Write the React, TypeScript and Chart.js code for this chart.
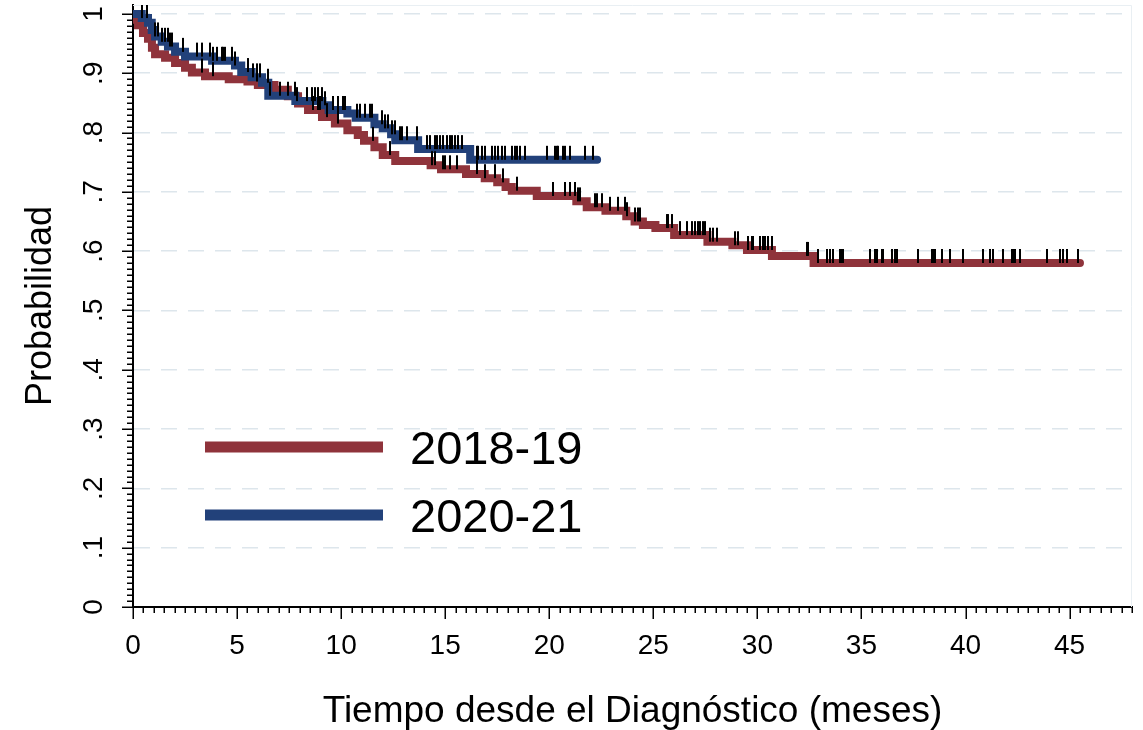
import React, { useEffect, useRef } from "react";
import { Chart, registerables } from "chart.js";

Chart.register(...registerables);

// ---------------- data ----------------
const seriesLabels = ["2018-19", "2020-21"];

// 2018-19 Kaplan-Meier steps (time in months, survival after the drop)
const redTimes = [0, 0.1, 0.24, 0.48, 0.72, 0.91, 1.06, 1.54, 2.02, 2.5, 2.83, 3.46, 4.6, 5.5, 6.0, 6.8, 7.44, 7.93, 8.41, 9.08, 9.7, 10.3, 10.8, 11.1, 11.6, 12.0, 12.6, 14.3, 14.8, 16.0, 16.9, 17.5, 17.9, 18.2, 19.4, 21.3, 21.8, 22.7, 23.7, 24.1, 24.5, 25.1, 26.0, 27.6, 28.8, 29.5, 30.7, 32.7];
const redValues = [1.0, 0.99, 0.981, 0.968, 0.958, 0.943, 0.932, 0.926, 0.917, 0.909, 0.901, 0.895, 0.89, 0.886, 0.88, 0.872, 0.861, 0.849, 0.838, 0.826, 0.815, 0.804, 0.796, 0.786, 0.775, 0.762, 0.752, 0.745, 0.738, 0.73, 0.723, 0.716, 0.708, 0.702, 0.693, 0.684, 0.674, 0.668, 0.659, 0.65, 0.644, 0.639, 0.627, 0.616, 0.61, 0.602, 0.592, 0.58];
const redEnd = 45.5;
const redCensor = [3.31, 3.84, 5.96, 8.65, 8.89, 8.98, 9.32, 9.85, 11.53, 12.34, 14.36, 14.51, 14.89, 14.99, 15.23, 15.56, 16.52, 16.91, 17.39, 17.77, 18.44, 20.17, 20.75, 20.99, 21.23, 21.37, 21.47, 22.19, 22.29, 22.53, 22.91, 23.3, 23.63, 23.73, 24.11, 24.26, 24.35, 25.65, 25.7, 25.89, 26.27, 26.61, 26.85, 26.99, 27.14, 27.23, 27.38, 27.47, 27.71, 27.86, 28.05, 28.91, 29.06, 29.54, 29.73, 29.78, 30.12, 30.26, 30.36, 30.5, 30.69, 32.37, 32.42, 32.9, 33.33, 33.48, 33.62, 33.96, 34.05, 34.1, 35.4, 35.64, 35.73, 35.98, 36.02, 36.46, 36.6, 36.7, 37.7, 38.38, 38.42, 38.52, 38.86, 39.24, 39.87, 40.83, 41.16, 41.31, 41.79, 42.22, 42.27, 42.36, 42.6, 43.9, 44.52, 44.67, 44.86, 45.39];

// 2020-21
const blueTimes = [0, 0.42, 0.72, 0.9, 1.06, 1.38, 1.68, 2.02, 2.5, 3.8, 4.9, 5.2, 5.7, 6.2, 6.5, 7.8, 9.1, 9.4, 10.3, 10.7, 11.6, 12.0, 12.4, 12.6, 13.7, 16.2];
const blueValues = [1.0, 0.993, 0.985, 0.973, 0.962, 0.953, 0.945, 0.936, 0.928, 0.921, 0.913, 0.902, 0.893, 0.884, 0.862, 0.853, 0.846, 0.838, 0.832, 0.825, 0.814, 0.807, 0.797, 0.787, 0.772, 0.754];
const blueEnd = 22.3;
const blueCensor = [0.42, 0.66, 1.06, 1.2, 1.38, 1.54, 1.67, 1.78, 1.86, 2.4, 3.06, 3.3, 3.7, 3.84, 4.02, 4.26, 4.32, 4.42, 4.74, 4.9, 5.52, 5.76, 5.96, 6.1, 6.48, 6.58, 7.06, 7.44, 7.78, 7.88, 8.36, 8.6, 8.74, 8.89, 9.08, 9.22, 9.61, 9.85, 10.09, 10.18, 10.76, 10.9, 11.14, 11.38, 11.48, 11.96, 12.1, 12.25, 12.44, 12.58, 12.82, 12.92, 13.16, 13.64, 14.12, 14.27, 14.51, 14.6, 14.75, 14.89, 15.08, 15.23, 15.32, 15.47, 15.61, 15.8, 16.52, 16.57, 16.76, 16.91, 17.24, 17.39, 17.53, 17.72, 17.87, 18.2, 18.35, 18.44, 18.59, 18.83, 19.88, 20.27, 20.36, 20.41, 20.65, 20.75, 20.99, 21.71, 22.09];

const xTickValues = [0, 5, 10, 15, 20, 25, 30, 35, 40, 45];
const xMinorStep = 0.5;
const xMin = 0;
const xMax = 48;
const yTickValues = [0, 0.1, 0.2, 0.3, 0.4, 0.5, 0.6, 0.7, 0.8, 0.9, 1];
const yTickLabels = ["0", ".1", ".2", ".3", ".4", ".5", ".6", ".7", ".8", ".9", "1"];
const yMinorStep = 0.01;
const yMin = 0;
const yMax = 1.015;

const xTitle = "Tiempo desde el Diagnóstico (meses)";
const yTitle = "Probabilidad";

// ---------------- styles ----------------
const RED = "#8f333b";
const BLUE = "#22417a";
const GRID = "#dde6ec";
const FONT = "'Liberation Sans', Arial, sans-serif";

function survivalAt(times: number[], values: number[], t: number) {
  let v = values[0];
  for (let i = 0; i < times.length; i++) {
    if (times[i] <= t) v = values[i];
  }
  return v;
}

function stepData(times: number[], values: number[], end: number) {
  const pts = times.map((t, i) => ({ x: t, y: values[i] }));
  pts.push({ x: end, y: values[values.length - 1] });
  return pts;
}

function censorData(times: number[], values: number[], cens: number[]) {
  return cens.map((t) => ({ x: t, y: survivalAt(times, values, t) }));
}

function makeTickImage() {
  const c = document.createElement("canvas");
  c.width = 2;
  c.height = 30;
  const g = c.getContext("2d")!;
  g.fillStyle = "#000";
  g.fillRect(0, 1, 2, 14);
  return c;
}

const statsPlugin = {
  id: "statsDecor",
  beforeDatasetsDraw(chart: any) {
    const { ctx, chartArea: ca } = chart;
    ctx.save();
    ctx.strokeStyle = "#e9eff3";
    ctx.lineWidth = 1;
    ctx.beginPath();
    ctx.moveTo(ca.left, ca.top + 0.5);
    ctx.lineTo(ca.right - 0.5, ca.top + 0.5);
    ctx.lineTo(ca.right - 0.5, ca.bottom);
    ctx.stroke();
    ctx.restore();
  },
  afterDraw(chart: any) {
    const { ctx, chartArea: ca } = chart;
    const xs = chart.scales.x;
    const ys = chart.scales.y;
    ctx.save();
    ctx.strokeStyle = "#000";
    ctx.lineWidth = 1.5;
    // x minor + major ticks
    const nx = Math.round((xMax - xMin) / xMinorStep);
    for (let i = 0; i <= nx; i++) {
      const v = xMin + i * xMinorStep;
      const px = Math.round(xs.getPixelForValue(v)) + 0.25;
      const major = xTickValues.some((m) => Math.abs(m - v) < 1e-6);
      ctx.beginPath();
      ctx.moveTo(px, ca.bottom);
      ctx.lineTo(px, ca.bottom + (major ? 12 : 6));
      ctx.stroke();
    }
    // y minor + major ticks
    const ny = Math.round((1 - yMin) / yMinorStep);
    for (let i = 0; i <= ny; i++) {
      const v = yMin + i * yMinorStep;
      const py = Math.round(ys.getPixelForValue(v)) + 0.25;
      const major = yTickValues.some((m) => Math.abs(m - v) < 1e-6);
      ctx.beginPath();
      ctx.moveTo(ca.left, py);
      ctx.lineTo(ca.left - (major ? 11 : 6), py);
      ctx.stroke();
    }
    // y tick labels (rotated, Stata style)
    ctx.fillStyle = "#000";
    ctx.font = `28px ${FONT}`;
    ctx.textAlign = "center";
    ctx.textBaseline = "alphabetic";
    yTickValues.forEach((v, i) => {
      ctx.save();
      ctx.translate(102, ys.getPixelForValue(v));
      ctx.rotate(-Math.PI / 2);
      ctx.fillText(yTickLabels[i], 0, 0);
      ctx.restore();
    });
    // legend
    const legendColors = [RED, BLUE];
    const legendY = [447, 515];
    ctx.font = `47px ${FONT}`;
    ctx.textAlign = "left";
    seriesLabels.forEach((lab, i) => {
      ctx.strokeStyle = legendColors[i];
      ctx.lineWidth = 11;
      ctx.lineCap = "butt";
      ctx.beginPath();
      ctx.moveTo(205, legendY[i]);
      ctx.lineTo(383, legendY[i]);
      ctx.stroke();
      ctx.fillStyle = "#000";
      ctx.fillText(lab, 410, legendY[i] + 17);
    });
    ctx.restore();
  },
};

export default function App() {
  const ref = useRef<HTMLCanvasElement | null>(null);

  useEffect(() => {
    document.body.style.margin = "0";
    const canvas = ref.current;
    if (!canvas) return;
    const tickImg = makeTickImage();

    const chart = new Chart(canvas, {
      type: "line",
      data: {
        datasets: [
          {
            type: "scatter",
            label: "censor-2018-19",
            data: censorData(redTimes, redValues, redCensor),
            pointStyle: tickImg as any,
            pointRadius: 3,
            showLine: false,
            order: 0,
          } as any,
          {
            type: "scatter",
            label: "censor-2020-21",
            data: censorData(blueTimes, blueValues, blueCensor),
            pointStyle: tickImg as any,
            pointRadius: 3,
            showLine: false,
            order: 0,
          } as any,
          {
            label: seriesLabels[1],
            data: stepData(blueTimes, blueValues, blueEnd),
            borderColor: BLUE,
            borderWidth: 8,
            stepped: "before",
            pointRadius: 0,
            fill: false,
            borderCapStyle: "round",
            borderJoinStyle: "miter",
            order: 1,
          } as any,
          {
            label: seriesLabels[0],
            data: stepData(redTimes, redValues, redEnd),
            borderColor: RED,
            borderWidth: 8,
            stepped: "before",
            pointRadius: 0,
            fill: false,
            borderCapStyle: "round",
            borderJoinStyle: "miter",
            order: 2,
          } as any,
        ],
      },
      options: {
        responsive: false,
        animation: false,
        devicePixelRatio: 1,
        events: [],
        layout: { padding: { left: 0, top: 5, right: 11, bottom: 0 } },
        plugins: { legend: { display: false }, tooltip: { enabled: false } },
        scales: {
          x: {
            type: "linear",
            min: xMin,
            max: xMax,
            afterBuildTicks: (s: any) => {
              s.ticks = xTickValues.map((v) => ({ value: v }));
            },
            afterFit: (s: any) => {
              s.height = 123;
            },
            grid: { display: true, drawOnChartArea: false, drawTicks: false },
            border: { display: true, color: "#000", width: 2 },
            ticks: {
              color: "#000",
              font: { family: FONT, size: 28 },
              padding: 22,
              maxRotation: 0,
              callback: (v: any) => String(v),
            },
            title: {
              display: true,
              text: xTitle,
              color: "#000",
              font: { family: FONT, size: 37, lineHeight: 1 },
              padding: { top: 0, bottom: 0 },
            },
          },
          y: {
            type: "linear",
            min: yMin,
            max: yMax,
            afterBuildTicks: (s: any) => {
              s.ticks = yTickValues.map((v) => ({ value: v }));
            },
            afterFit: (s: any) => {
              s.width = 133;
            },
            grid: {
              drawTicks: false,
              color: (c: any) => (c.tick && c.tick.value > 0 ? GRID : "rgba(0,0,0,0)"),
              lineWidth: 1.5,
            },
            border: { display: true, color: "#000", width: 2, dash: [16, 11] },
            ticks: { display: false },
            title: {
              display: true,
              text: yTitle,
              color: "#000",
              font: { family: FONT, size: 36, lineHeight: 1 },
              padding: { top: 23, bottom: 0 },
            },
          },
        },
      } as any,
      plugins: [statsPlugin],
    });

    return () => chart.destroy();
  }, []);

  return (
    <div style={{ position: "absolute", left: 0, top: 0, width: 1143, height: 730, background: "#fff" }}>
      <canvas ref={ref} width={1143} height={730} />
    </div>
  );
}
